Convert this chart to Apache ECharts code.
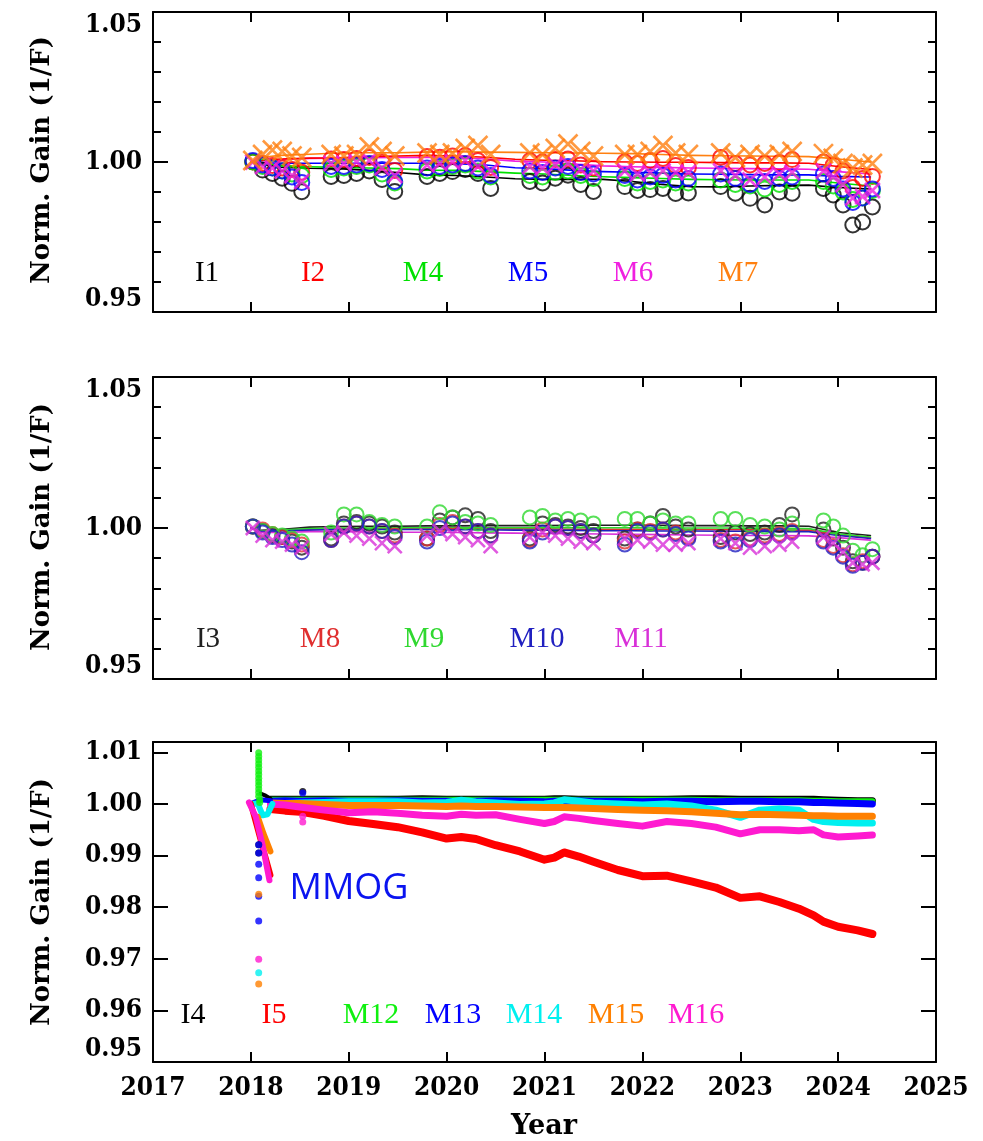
<!DOCTYPE html>
<html>
<head>
<meta charset="utf-8">
<script src="https://cdn.jsdelivr.net/npm/echarts@6/dist/echarts.min.js"></script>
<style>
html, body { margin: 0; padding: 0; background: #fff; }
#chart { width: 983px; height: 1141px; }
</style>
</head>
<body>
<div id="chart"></div>
<script>
// ---------------- Trend lines, panels 1 and 2 ----------------
const trendYears = [2018.00, 2018.10, 2018.30, 2018.60, 2018.90, 2019.20, 2019.50, 2019.80, 2020.10, 2020.40, 2020.70,
  2021.00, 2021.30, 2021.60, 2021.90, 2022.20, 2022.50, 2022.80, 2023.10, 2023.40, 2023.70, 2024.00, 2024.33];

const lineI1 = [1.0000, 0.9992, 0.9983, 0.9979, 0.9978, 0.9972, 0.9965, 0.9957, 0.9955, 0.9950, 0.9944,
  0.9942, 0.9942, 0.9942, 0.9935, 0.9925, 0.9918, 0.9917, 0.9920, 0.9922, 0.9923, 0.9915, 0.9910];
const lineI2 = [1.0000, 1.0005, 1.0010, 1.0013, 1.0014, 1.0018, 1.0020, 1.0022, 1.0020, 1.0016, 1.0009,
  1.0006, 1.0004, 1.0001, 1.0000, 0.9999, 0.9999, 0.9998, 0.9997, 0.9997, 0.9996, 0.9985, 0.9975];
const lineM4 = [1.0000, 0.9995, 0.9988, 0.9984, 0.9982, 0.9980, 0.9978, 0.9973, 0.9972, 0.9968, 0.9963,
  0.9960, 0.9955, 0.9951, 0.9948, 0.9945, 0.9942, 0.9941, 0.9940, 0.9940, 0.9940, 0.9930, 0.9920];
const lineM5 = [1.0000, 0.9998, 0.9996, 0.9996, 0.9996, 0.9996, 0.9996, 0.9996, 0.9994, 0.9990, 0.9981,
  0.9978, 0.9972, 0.9968, 0.9966, 0.9963, 0.9960, 0.9959, 0.9958, 0.9957, 0.9957, 0.9952, 0.9950];
const lineM6 = [1.0000, 1.0004, 1.0008, 1.0012, 1.0013, 1.0014, 1.0015, 1.0016, 1.0014, 1.0010, 1.0003,
  1.0000, 0.9993, 0.9987, 0.9984, 0.9982, 0.9980, 0.9979, 0.9978, 0.9977, 0.9976, 0.9968, 0.9960];
const lineM7 = [1.0000, 1.0015, 1.0022, 1.0026, 1.0030, 1.0031, 1.0031, 1.0033, 1.0034, 1.0033, 1.0032,
  1.0031, 1.0030, 1.0029, 1.0028, 1.0025, 1.0022, 1.0021, 1.0020, 1.0019, 1.0018, 1.0010, 1.0000];

const lineI3 = [1.0000, 0.9992, 0.9995, 1.0003, 1.0005, 1.0006, 1.0006, 1.0007, 1.0007, 1.0008, 1.0008,
  1.0008, 1.0009, 1.0009, 1.0009, 1.0009, 1.0008, 1.0008, 1.0007, 1.0007, 1.0006, 0.9985, 0.9975];
const lineM8 = [1.0000, 0.9990, 0.9992, 0.9996, 0.9998, 0.9998, 0.9998, 0.9998, 0.9998, 0.9998, 0.9997,
  0.9997, 0.9996, 0.9996, 0.9996, 0.9995, 0.9995, 0.9994, 0.9994, 0.9993, 0.9993, 0.9978, 0.9968];
const lineM9 = [1.0000, 0.9990, 0.9993, 0.9998, 1.0000, 1.0000, 1.0001, 1.0001, 1.0001, 1.0001, 1.0001,
  1.0001, 1.0001, 1.0001, 1.0001, 1.0000, 1.0000, 1.0000, 0.9999, 0.9999, 0.9998, 0.9980, 0.9970];
const lineM10 = [1.0000, 0.9988, 0.9990, 0.9993, 0.9995, 0.9995, 0.9995, 0.9995, 0.9994, 0.9994, 0.9993,
  0.9993, 0.9992, 0.9991, 0.9991, 0.9990, 0.9990, 0.9989, 0.9989, 0.9988, 0.9988, 0.9975, 0.9965];
const lineM11 = [1.0000, 0.9985, 0.9985, 0.9988, 0.9988, 0.9987, 0.9986, 0.9986, 0.9985, 0.9984, 0.9983,
  0.9982, 0.9981, 0.9980, 0.9979, 0.9978, 0.9977, 0.9976, 0.9975, 0.9975, 0.9974, 0.9968, 0.9960];

// ---------------- Calibration epochs (markers), panels 1 and 2 ----------------
const calYears = [
  2018.02, 2018.12, 2018.22, 2018.32, 2018.42, 2018.52,
  2018.82, 2018.95, 2019.08, 2019.21, 2019.34, 2019.47,
  2019.80, 2019.93, 2020.06, 2020.19, 2020.32, 2020.45,
  2020.85, 2020.98, 2021.11, 2021.24, 2021.37, 2021.50,
  2021.82, 2021.95, 2022.08, 2022.21, 2022.34, 2022.47,
  2022.80, 2022.95, 2023.10, 2023.25, 2023.40, 2023.53,
  2023.85, 2023.95, 2024.05, 2024.15, 2024.25, 2024.35];

const calI1 = [
  1.0001, 0.9973, 0.9962, 0.9946, 0.9929, 0.9901,
  0.9952, 0.9955, 0.9962, 0.9970, 0.9942, 0.9902,
  0.9952, 0.9962, 0.9968, 0.9975, 0.9962, 0.9912,
  0.9935, 0.9930, 0.9946, 0.9956, 0.9925, 0.9902,
  0.9918, 0.9905, 0.9908, 0.9912, 0.9895, 0.9897,
  0.9918, 0.9896, 0.9879, 0.9857, 0.9900, 0.9896,
  0.9912, 0.9890, 0.9857, 0.9790, 0.9800, 0.9850];
const calI2 = [
  1.0000, 0.9995, 0.9988, 0.9980, 0.9975, 0.9966,
  1.0010, 1.0008, 1.0012, 1.0015, 1.0000, 0.9972,
  1.0018, 1.0016, 1.0020, 1.0022, 1.0005, 0.9982,
  1.0004, 1.0000, 1.0008, 1.0010, 0.9990, 0.9980,
  1.0000, 0.9995, 1.0005, 1.0012, 0.9988, 0.9982,
  1.0015, 0.9995, 0.9990, 0.9995, 0.9998, 1.0008,
  1.0000, 0.9990, 0.9970, 0.9915, 0.9945, 0.9952];
const calM4 = [
  1.0000, 0.9985, 0.9980, 0.9970, 0.9960, 0.9955,
  0.9975, 0.9980, 0.9985, 0.9990, 0.9960, 0.9930,
  0.9970, 0.9978, 0.9985, 0.9990, 0.9970, 0.9950,
  0.9955, 0.9950, 0.9965, 0.9970, 0.9955, 0.9945,
  0.9945, 0.9930, 0.9935, 0.9940, 0.9930, 0.9930,
  0.9940, 0.9925, 0.9920, 0.9910, 0.9925, 0.9935,
  0.9935, 0.9920, 0.9900, 0.9875, 0.9880, 0.9905];
const calM5 = [
  1.0005, 0.9990, 0.9980, 0.9970, 0.9950, 0.9932,
  0.9985, 0.9985, 0.9990, 0.9995, 0.9975, 0.9935,
  0.9980, 0.9985, 0.9990, 0.9995, 0.9980, 0.9955,
  0.9970, 0.9965, 0.9980, 0.9985, 0.9965, 0.9960,
  0.9955, 0.9940, 0.9950, 0.9955, 0.9940, 0.9945,
  0.9960, 0.9945, 0.9925, 0.9935, 0.9945, 0.9950,
  0.9960, 0.9945, 0.9910, 0.9865, 0.9880, 0.9910];
const calM6 = [
  1.0000, 0.9985, 0.9980, 0.9970, 0.9955, 0.9935,
  0.9995, 0.9995, 1.0000, 1.0005, 0.9980, 0.9955,
  0.9990, 0.9995, 1.0000, 1.0005, 0.9985, 0.9970,
  0.9985, 0.9980, 0.9990, 0.9995, 0.9975, 0.9970,
  0.9970, 0.9960, 0.9965, 0.9970, 0.9965, 0.9965,
  0.9970, 0.9955, 0.9940, 0.9950, 0.9960, 0.9965,
  0.9970, 0.9950, 0.9925, 0.9880, 0.9885, 0.9905];
const calM7 = [
  1.0005, 1.0025, 1.0040, 1.0035, 1.0020, 1.0015,
  1.0025, 1.0020, 1.0025, 1.0050, 1.0035, 1.0020,
  1.0030, 1.0025, 1.0030, 1.0045, 1.0055, 1.0025,
  1.0030, 1.0025, 1.0045, 1.0060, 1.0035, 1.0020,
  1.0025, 1.0025, 1.0035, 1.0055, 1.0030, 1.0025,
  1.0030, 1.0015, 1.0025, 1.0020, 1.0025, 1.0035,
  1.0028, 1.0012, 0.9995, 0.9980, 0.9990, 0.9995];

const calI3 = [
  1.0005, 0.9990, 0.9975, 0.9970, 0.9955, 0.9935,
  0.9965, 1.0015, 1.0020, 1.0015, 1.0005, 0.9985,
  0.9965, 1.0025, 1.0035, 1.0042, 1.0030, 0.9990,
  0.9965, 1.0015, 1.0010, 1.0005, 1.0000, 0.9990,
  0.9965, 0.9995, 1.0015, 1.0040, 1.0005, 0.9995,
  0.9970, 0.9985, 0.9980, 0.9985, 1.0010, 1.0045,
  0.9995, 0.9965, 0.9935, 0.9890, 0.9885, 0.9905];
const calM8 = [
  1.0005, 0.9995, 0.9980, 0.9970, 0.9960, 0.9945,
  0.9960, 1.0005, 1.0015, 1.0005, 0.9990, 0.9975,
  0.9965, 1.0010, 1.0020, 1.0005, 0.9990, 0.9975,
  0.9960, 0.9995, 1.0005, 1.0000, 0.9990, 0.9975,
  0.9955, 0.9995, 0.9990, 0.9995, 0.9985, 0.9970,
  0.9960, 0.9955, 0.9965, 0.9975, 0.9980, 0.9990,
  0.9960, 0.9940, 0.9910, 0.9880, 0.9890, 0.9905];
const calM9 = [
  1.0005, 0.9990, 0.9980, 0.9975, 0.9965, 0.9955,
  0.9985, 1.0045, 1.0045, 1.0020, 1.0010, 1.0005,
  1.0005, 1.0052, 1.0035, 1.0020, 1.0015, 1.0010,
  1.0035, 1.0040, 1.0025, 1.0030, 1.0025, 1.0015,
  1.0030, 1.0030, 1.0015, 1.0025, 1.0015, 1.0015,
  1.0030, 1.0030, 1.0010, 1.0005, 0.9995, 1.0015,
  1.0025, 1.0005, 0.9975, 0.9925, 0.9910, 0.9930];
const calM10 = [
  1.0005, 0.9985, 0.9970, 0.9960, 0.9945, 0.9920,
  0.9960, 1.0005, 1.0015, 1.0005, 0.9990, 0.9970,
  0.9955, 1.0000, 1.0015, 1.0005, 0.9990, 0.9975,
  0.9955, 0.9985, 1.0005, 1.0000, 0.9990, 0.9975,
  0.9945, 0.9990, 0.9985, 0.9995, 0.9980, 0.9965,
  0.9955, 0.9945, 0.9960, 0.9970, 0.9975, 0.9985,
  0.9955, 0.9935, 0.9905, 0.9875, 0.9885, 0.9905];
const calM11 = [
  1.0000, 0.9975, 0.9960, 0.9955, 0.9945, 0.9935,
  0.9980, 0.9985, 0.9975, 0.9965, 0.9950, 0.9940,
  0.9975, 0.9990, 0.9980, 0.9970, 0.9960, 0.9940,
  0.9970, 0.9985, 0.9975, 0.9965, 0.9955, 0.9950,
  0.9965, 0.9960, 0.9955, 0.9945, 0.9945, 0.9950,
  0.9965, 0.9950, 0.9935, 0.9940, 0.9945, 0.9955,
  0.9970, 0.9950, 0.9920, 0.9885, 0.9880, 0.9885];

// ---------------- Panel 3: dense daily bands ----------------
const bandYears = [2018.20, 2018.35, 2018.50, 2018.75, 2019.00, 2019.25, 2019.50, 2019.75, 2020.00, 2020.15,
  2020.30, 2020.50, 2020.75, 2021.00, 2021.10, 2021.20, 2021.35, 2021.50, 2021.75, 2022.00, 2022.25, 2022.50,
  2022.75, 2023.00, 2023.20, 2023.40, 2023.60, 2023.75, 2023.85, 2024.00, 2024.20, 2024.35];

const bandI4 = [1.0009, 1.0009, 1.0009, 1.0009, 1.0009, 1.0009, 1.0009, 1.0010, 1.0009, 1.0009,
  1.0009, 1.0009, 1.0009, 1.0009, 1.0010, 1.0010, 1.0009, 1.0009, 1.0009, 1.0009, 1.0009, 1.0010,
  1.0010, 1.0009, 1.0009, 1.0009, 1.0009, 1.0009, 1.0008, 1.0007, 1.0006, 1.0006];
const bandI5 = [0.9990, 0.9987, 0.9985, 0.9977, 0.9967, 0.9961, 0.9955, 0.9945, 0.9933, 0.9936,
  0.9932, 0.9920, 0.9908, 0.9892, 0.9896, 0.9906, 0.9898, 0.9888, 0.9872, 0.9860, 0.9861, 0.9850,
  0.9838, 0.9818, 0.9821, 0.9810, 0.9797, 0.9784, 0.9772, 0.9762, 0.9755, 0.9748];
const bandM12 = [1.0008, 1.0008, 1.0008, 1.0008, 1.0008, 1.0008, 1.0008, 1.0008, 1.0008, 1.0008,
  1.0008, 1.0008, 1.0008, 1.0008, 1.0008, 1.0008, 1.0008, 1.0008, 1.0008, 1.0008, 1.0008, 1.0008,
  1.0007, 1.0007, 1.0007, 1.0007, 1.0007, 1.0006, 1.0006, 1.0005, 1.0005, 1.0005];
const bandM13 = [1.0005, 1.0006, 1.0005, 1.0006, 1.0005, 1.0005, 1.0006, 1.0005, 1.0005, 1.0004,
  1.0005, 1.0006, 1.0005, 1.0004, 1.0005, 1.0005, 1.0006, 1.0005, 1.0005, 1.0004, 1.0005, 1.0005,
  1.0004, 1.0005, 1.0005, 1.0004, 1.0004, 1.0003, 1.0003, 1.0002, 1.0001, 1.0000];
const bandM14 = [1.0000, 1.0001, 1.0002, 1.0003, 1.0004, 1.0004, 1.0004, 1.0002, 1.0003, 1.0007,
  1.0004, 1.0002, 0.9999, 1.0000, 1.0002, 1.0008, 1.0005, 1.0002, 1.0000, 0.9998, 1.0000, 0.9996,
  0.9988, 0.9974, 0.9988, 0.9990, 0.9988, 0.9970, 0.9966, 0.9964, 0.9963, 0.9963];
const bandM15 = [1.0002, 1.0001, 1.0001, 0.9999, 0.9997, 0.9997, 0.9997, 0.9996, 0.9995, 0.9996,
  0.9995, 0.9995, 0.9994, 0.9993, 0.9993, 0.9993, 0.9992, 0.9991, 0.9989, 0.9988, 0.9987, 0.9985,
  0.9982, 0.9979, 0.9980, 0.9979, 0.9978, 0.9977, 0.9977, 0.9976, 0.9976, 0.9976];
const bandM16 = [1.0000, 0.9998, 0.9994, 0.9988, 0.9983, 0.9985, 0.9982, 0.9978, 0.9976, 0.9980,
  0.9978, 0.9979, 0.9970, 0.9962, 0.9966, 0.9975, 0.9972, 0.9968, 0.9962, 0.9957, 0.9966, 0.9962,
  0.9955, 0.9942, 0.9950, 0.9950, 0.9948, 0.9950, 0.9940, 0.9936, 0.9938, 0.9940];

// Early-2018 ramps (MMOG period)
const rampI5Years = [2018.00, 2018.10, 2018.20];
const rampI5 = [1.0000, 0.9930, 0.9862];
const rampM16Years = [2017.98, 2018.05, 2018.12, 2018.19];
const rampM16 = [1.0003, 0.9975, 0.9920, 0.9852];
const rampM15Years = [2018.07, 2018.13, 2018.20];
const rampM15 = [0.9975, 0.9942, 0.9908];
const rampM14Years = [2018.00, 2018.07, 2018.12, 2018.17, 2018.22];
const rampM14 = [1.0000, 1.0001, 0.9978, 0.9980, 1.0000];
const rampM13Years = [2018.02, 2018.10, 2018.20];
const rampM13 = [1.0002, 1.0008, 1.0006];
const rampI4Years = [2018.10, 2018.15, 2018.20];
const rampI4 = [1.0020, 1.0016, 1.0010];

// Isolated points
const dotsM12 = [[2018.08, 1.0099], [2018.08, 1.0092], [2018.08, 1.0085], [2018.08, 1.0078], [2018.08, 1.0071],
  [2018.08, 1.0064], [2018.08, 1.0057], [2018.08, 1.0050], [2018.08, 1.0043], [2018.08, 1.0036],
  [2018.08, 1.0029], [2018.08, 1.0022], [2018.08, 1.0015], [2018.09, 1.0008], [2018.09, 1.0003]];
const dotsI4 = [[2018.08, 0.9921], [2018.08, 0.9905], [2018.53, 1.0024]];
const dotsM13 = [[2018.08, 0.9921], [2018.08, 0.9905], [2018.08, 0.9883], [2018.08, 0.9857],
  [2018.08, 0.9821], [2018.08, 0.9773], [2018.53, 1.0021]];
const dotsM16 = [[2018.08, 0.9699], [2018.53, 0.9976], [2018.53, 0.9965]];
const dotsM14 = [[2018.08, 0.9673]];
const dotsM15 = [[2018.08, 0.9651], [2018.08, 0.9825]];

// Axis tick labels
const yearTicks = [2017, 2018, 2019, 2020, 2021, 2022, 2023, 2024, 2025];

// ---------------- Helpers ----------------
const pairs = (xs, ys) => xs.map((x, i) => [x, ys[i]]);
const SERIF = 'DejaVu Serif';
const TICK_FONT = '"DejaVu Serif Condensed", "DejaVu Serif"';
const LEGEND_FONT = 'Liberation Serif';
const crossPath = 'path://M0,0L10,10M10,0L0,10';

const grids = [
  { left: 153, top: 12, width: 783, height: 300 },
  { left: 153, top: 377, width: 783, height: 302 },
  { left: 153, top: 742, width: 783, height: 320 }
];
const yRanges = [
  { min: 0.95, max: 1.05, interval: 0.05, minor: true },
  { min: 0.95, max: 1.05, interval: 0.05, minor: true },
  { min: 0.95, max: 1.012, interval: 0.01, minor: false }
];

const xAxes = [], yAxes = [];
grids.forEach((g, gi) => {
  ['bottom', 'top'].forEach(pos => {
    xAxes.push({
      type: 'value', gridIndex: gi, position: pos,
      min: yearTicks[0], max: yearTicks[yearTicks.length - 1], interval: 1,
      axisLine: { show: true, onZero: false, lineStyle: { color: '#000', width: 2 } },
      axisTick: { show: true, inside: true, length: 10, lineStyle: { color: '#000', width: 2 } },
      axisLabel: {
        show: gi === 2 && pos === 'bottom', margin: 13, color: '#000',
        fontFamily: TICK_FONT, fontWeight: 'bold', fontSize: 26,
        formatter: v => (yearTicks.includes(Math.round(v)) ? String(Math.round(v)) : '')
      },
      splitLine: { show: false }
    });
  });
  const r = yRanges[gi];
  ['left', 'right'].forEach(pos => {
    yAxes.push({
      type: 'value', gridIndex: gi, position: pos,
      min: r.min, max: r.max, interval: r.interval,
      axisLine: { show: true, onZero: false, lineStyle: { color: '#000', width: 2 } },
      axisTick: { show: true, inside: true, length: 15, lineStyle: { color: '#000', width: 2 } },
      minorTick: { show: r.minor, splitNumber: 5, length: 8, lineStyle: { color: '#000', width: 2 } },
      axisLabel: {
        show: pos === 'left', margin: 11, color: '#000',
        fontFamily: TICK_FONT, fontWeight: 'bold', fontSize: 26,
        verticalAlignMinLabel: 'bottom',
        verticalAlignMaxLabel: gi === 2 ? 'middle' : 'top',
        formatter: v => {
          const k = Math.round(v / r.interval);
          return Math.abs(v - k * r.interval) < 1e-6 ? v.toFixed(2) : '';
        }
      },
      splitLine: { show: false }, minorSplitLine: { show: false }
    });
  });
});

const series = [];
function addLine(gi, xs, ys, color, width, z) {
  series.push({
    type: 'line', xAxisIndex: gi * 2, yAxisIndex: gi * 2, data: pairs(xs, ys),
    showSymbol: false, symbol: 'none', silent: true, z: z || 2,
    lineStyle: { color: color, width: width, cap: 'round', join: 'round' }
  });
}
function addMarks(gi, ys, color, cross, size) {
  series.push({
    type: 'scatter', xAxisIndex: gi * 2, yAxisIndex: gi * 2, data: pairs(calYears, ys),
    symbol: cross ? crossPath : 'circle', symbolSize: size, silent: true, z: 3,
    itemStyle: { color: 'rgba(0,0,0,0)', borderColor: color, borderWidth: cross ? 2.6 : 2 }
  });
}
function addDots(gi, pts, color) {
  series.push({
    type: 'scatter', xAxisIndex: gi * 2, yAxisIndex: gi * 2, data: pts,
    symbol: 'circle', symbolSize: 7, silent: true, z: 4,
    itemStyle: { color: color }
  });
}

// Panel 1 colours
const c1 = { I1: '#000000', I2: '#ff0000', M4: '#00e000', M5: '#0000ff', M6: '#f020e0', M7: '#ff8010' };
addLine(0, trendYears, lineI1, c1.I1, 1.6);
addLine(0, trendYears, lineM4, c1.M4, 1.6);
addLine(0, trendYears, lineM5, c1.M5, 1.6);
addLine(0, trendYears, lineM6, c1.M6, 1.6);
addLine(0, trendYears, lineI2, c1.I2, 1.6);
addLine(0, trendYears, lineM7, c1.M7, 1.6);
addMarks(0, calI1, c1.I1, false, 15);
addMarks(0, calI2, c1.I2, false, 15);
addMarks(0, calM4, c1.M4, false, 15);
addMarks(0, calM5, c1.M5, false, 15);
addMarks(0, calM6, c1.M6, true, 15);
addMarks(0, calM7, c1.M7, true, 19);

// Panel 2 colours
const c2 = { I3: '#202020', M8: '#e03030', M9: '#30d830', M10: '#2020c0', M11: '#d830d8' };
addLine(1, trendYears, lineI3, c2.I3, 1.6);
addLine(1, trendYears, lineM8, c2.M8, 1.6);
addLine(1, trendYears, lineM9, c2.M9, 1.6);
addLine(1, trendYears, lineM10, c2.M10, 1.6);
addLine(1, trendYears, lineM11, c2.M11, 1.6);
addMarks(1, calI3, c2.I3, false, 14);
addMarks(1, calM8, c2.M8, false, 14);
addMarks(1, calM9, c2.M9, false, 14);
addMarks(1, calM10, c2.M10, false, 14);
addMarks(1, calM11, c2.M11, true, 14);

// Panel 3 colours
const c3 = { I4: '#000000', I5: '#ff0000', M12: '#10f010', M13: '#0000ff', M14: '#00f0f0', M15: '#ff8000', M16: '#ff1ad0' };
addLine(2, bandYears, bandI4, c3.I4, 7);
addLine(2, bandYears, bandI5, c3.I5, 8);
addLine(2, bandYears, bandM12, c3.M12, 6);
addLine(2, bandYears, bandM13, c3.M13, 7);
addLine(2, bandYears, bandM14, c3.M14, 7);
addLine(2, bandYears, bandM15, c3.M15, 7);
addLine(2, bandYears, bandM16, c3.M16, 7);
addLine(2, rampI4Years, rampI4, c3.I4, 4, 3);
addLine(2, rampM13Years, rampM13, c3.M13, 5, 3);
addLine(2, rampM14Years, rampM14, c3.M14, 6, 3);
addLine(2, rampI5Years, rampI5, c3.I5, 6, 3);
addLine(2, rampM15Years, rampM15, c3.M15, 6, 3);
addLine(2, rampM16Years, rampM16, c3.M16, 6, 3);
addDots(2, dotsM12, c3.M12);
addDots(2, dotsI4, c3.I4);
addDots(2, dotsM13, c3.M13);
addDots(2, dotsM16, c3.M16);
addDots(2, dotsM14, c3.M14);
addDots(2, dotsM15, c3.M15);

// ---------------- Text: band labels, axis titles ----------------
function label(text, x, y, color, size) {
  return {
    type: 'text', x: x, y: y, z: 10,
    style: { text: text, fill: color, fontFamily: LEGEND_FONT, fontSize: size || 29, align: 'center', verticalAlign: 'middle' }
  };
}
const bandLabels1 = [['I1', 207, c1.I1], ['I2', 313, c1.I2], ['M4', 423, c1.M4], ['M5', 528, c1.M5], ['M6', 633, c1.M6], ['M7', 738, c1.M7]];
const bandLabels2 = [['I3', 208, c2.I3], ['M8', 320, c2.M8], ['M9', 424, c2.M9], ['M10', 537, c2.M10], ['M11', 641, c2.M11]];
const bandLabels3 = [['I4', 193, c3.I4], ['I5', 274, c3.I5], ['M12', 371, c3.M12], ['M13', 453, c3.M13], ['M14', 534, c3.M14], ['M15', 616, c3.M15], ['M16', 696, c3.M16]];

const graphics = [];
bandLabels1.forEach(b => graphics.push(label(b[0], b[1], 273, b[2])));
bandLabels2.forEach(b => graphics.push(label(b[0], b[1], 639, b[2])));
bandLabels3.forEach(b => graphics.push(label(b[0], b[1], 1015, b[2], 30)));

[160, 527, 902].forEach(cy => graphics.push({
  type: 'text', x: 42, y: cy, rotation: Math.PI / 2, z: 10,
  style: { text: 'Norm. Gain (1/F)', fill: '#000', fontFamily: SERIF, fontWeight: 'bold', fontSize: 26, align: 'center', verticalAlign: 'middle' }
}));
graphics.push({
  type: 'text', x: 544, y: 1127, z: 10,
  style: { text: 'Year', fill: '#000', fontFamily: SERIF, fontWeight: 'bold', fontSize: 27, align: 'center', verticalAlign: 'middle' }
});
graphics.push({
  type: 'text', x: 349, y: 889, z: 10,
  style: { text: 'MMOG', fill: '#0a14f0', fontFamily: 'Open Sans', fontSize: 36, align: 'center', verticalAlign: 'middle' }
});

const chart = echarts.init(document.getElementById('chart'), null, { renderer: 'canvas' });
chart.setOption({
  animation: false,
  backgroundColor: '#ffffff',
  grid: grids.map(g => Object.assign({ containLabel: false, show: false }, g)),
  xAxis: xAxes,
  yAxis: yAxes,
  series: series,
  graphic: graphics
});
</script>
</body>
</html>
